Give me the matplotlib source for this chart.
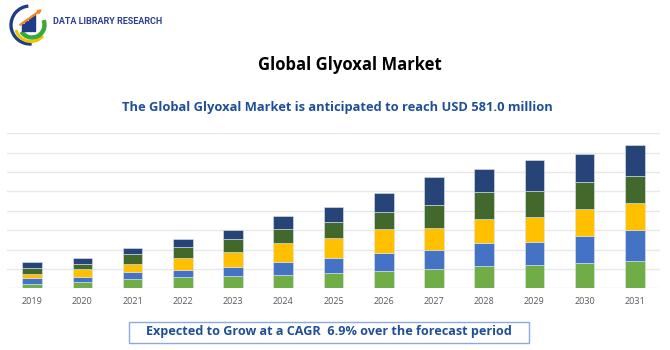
import numpy as np
import matplotlib.pyplot as plt
from matplotlib.patches import Arc, Rectangle, FancyArrow, Wedge

years = ['2019', '2020', '2021', '2022', '2023', '2024', '2025',
         '2026', '2027', '2028', '2029', '2030', '2031']
seg1 = [19.3, 24.8, 39.9, 45.4, 52.3, 55.1, 64.7, 71.6, 79.9, 92.3, 96.4, 103.3, 112.9]
seg2 = [24.8, 20.7, 28.9, 31.7, 34.4, 55.1, 62.0, 75.7, 78.5, 96.4, 96.4, 111.5, 126.7]
seg3 = [16.5, 34.4, 33.0, 49.6, 64.7, 78.5, 79.9, 97.8, 90.9, 97.8, 100.5, 112.9, 112.9]
seg4 = [24.8, 20.7, 38.6, 44.1, 53.7, 57.8, 66.1, 70.2, 95.0, 110.2, 110.2, 112.9, 111.5]
seg5 = [22.0, 23.4, 27.5, 34.4, 34.4, 53.7, 62.0, 77.1, 114.3, 96.4, 126.7, 114.3, 126.7]
colors = ['#70ad47', '#4472c4', '#ffc000', '#43682b', '#264478']

plt.rcParams['font.family'] = ['Open Sans', 'DejaVu Sans']

fig = plt.figure(figsize=(6.7, 3.5), dpi=100)
fig.patch.set_facecolor('white')

ax = fig.add_axes([7 / 670, 61.7 / 350, 653 / 670, 155 / 350])
x = np.arange(len(years))
bottom = np.zeros(len(years))
for vals, c in zip([seg1, seg2, seg3, seg4, seg5], colors):
    ax.bar(x, vals, width=0.39, bottom=bottom, color=c,
           edgecolor='#dfe6f0', linewidth=0.4, zorder=3)
    bottom += np.array(vals)

ax.set_xlim(-0.5, len(years) - 0.5)
ax.set_ylim(0, 640)
ax.set_yticks(np.arange(0, 641, 80))
ax.yaxis.grid(True, color='#e8e8e8', linewidth=1.0, zorder=0)
ax.tick_params(axis='y', left=False, labelleft=False)
ax.set_xticks(x)
ax.set_xticklabels(years, fontsize=6.5, color='#595959')
ax.tick_params(axis='x', length=0, pad=6)
for s in ax.spines.values():
    s.set_visible(False)

fig.text(350 / 670, 1 - 65 / 350, 'Global Glyoxal Market', ha='center', va='center',
         fontsize=12, fontweight='bold', color='black')
fig.text(337 / 670, 1 - 107 / 350,
         'The Global Glyoxal Market is anticipated to reach USD 581.0 million',
         ha='center', va='center', fontsize=9.3, fontweight='bold', color='#1f4e9a')

# bottom box
fig.patches.append(Rectangle((129 / 670, 1 - 343 / 350), 400 / 670, 21.5 / 350,
                             transform=fig.transFigure, facecolor='white',
                             edgecolor='#8eaadb', linewidth=1.0))
fig.text(329 / 670, 1 - 332 / 350,
         'Expected to Grow at a CAGR  6.9% over the forecast period',
         ha='center', va='center', fontsize=9.1, fontweight='bold', color='#1f4e9a')

# logo
lax = fig.add_axes([8 / 670, 1 - 47 / 350, 45 / 670, 45 / 350])
lax.set_xlim(0, 45)
lax.set_ylim(0, 45)
lax.axis('off')
lax.add_patch(Arc((22, 22), 38, 38, theta1=95, theta2=275, color='#1f3c88', linewidth=2.4))
lax.add_patch(Arc((23, 21), 31, 31, theta1=195, theta2=320, color='#f2c300', linewidth=2.2))
lax.add_patch(Wedge((24, 22), 14, 215, 20, width=3, color='#3aa935'))
for i, h in enumerate([7, 10, 13, 16]):
    lax.add_patch(Rectangle((14 + i * 3.4, 16), 2.6, h, color='#1f3c88'))
lax.add_patch(FancyArrow(12, 22, 21, 15, width=0.9, head_width=3.5, head_length=3.5,
                         color='#f08a24', length_includes_head=True))
fig.text(53 / 670, 1 - 22 / 350, 'DATA LIBRARY RESEARCH', ha='left', va='center',
         fontsize=6.5, fontweight='bold', color='#2c3e91', family=['Roboto', 'DejaVu Sans'])

fig.savefig('out.png', dpi=100, facecolor='white')
